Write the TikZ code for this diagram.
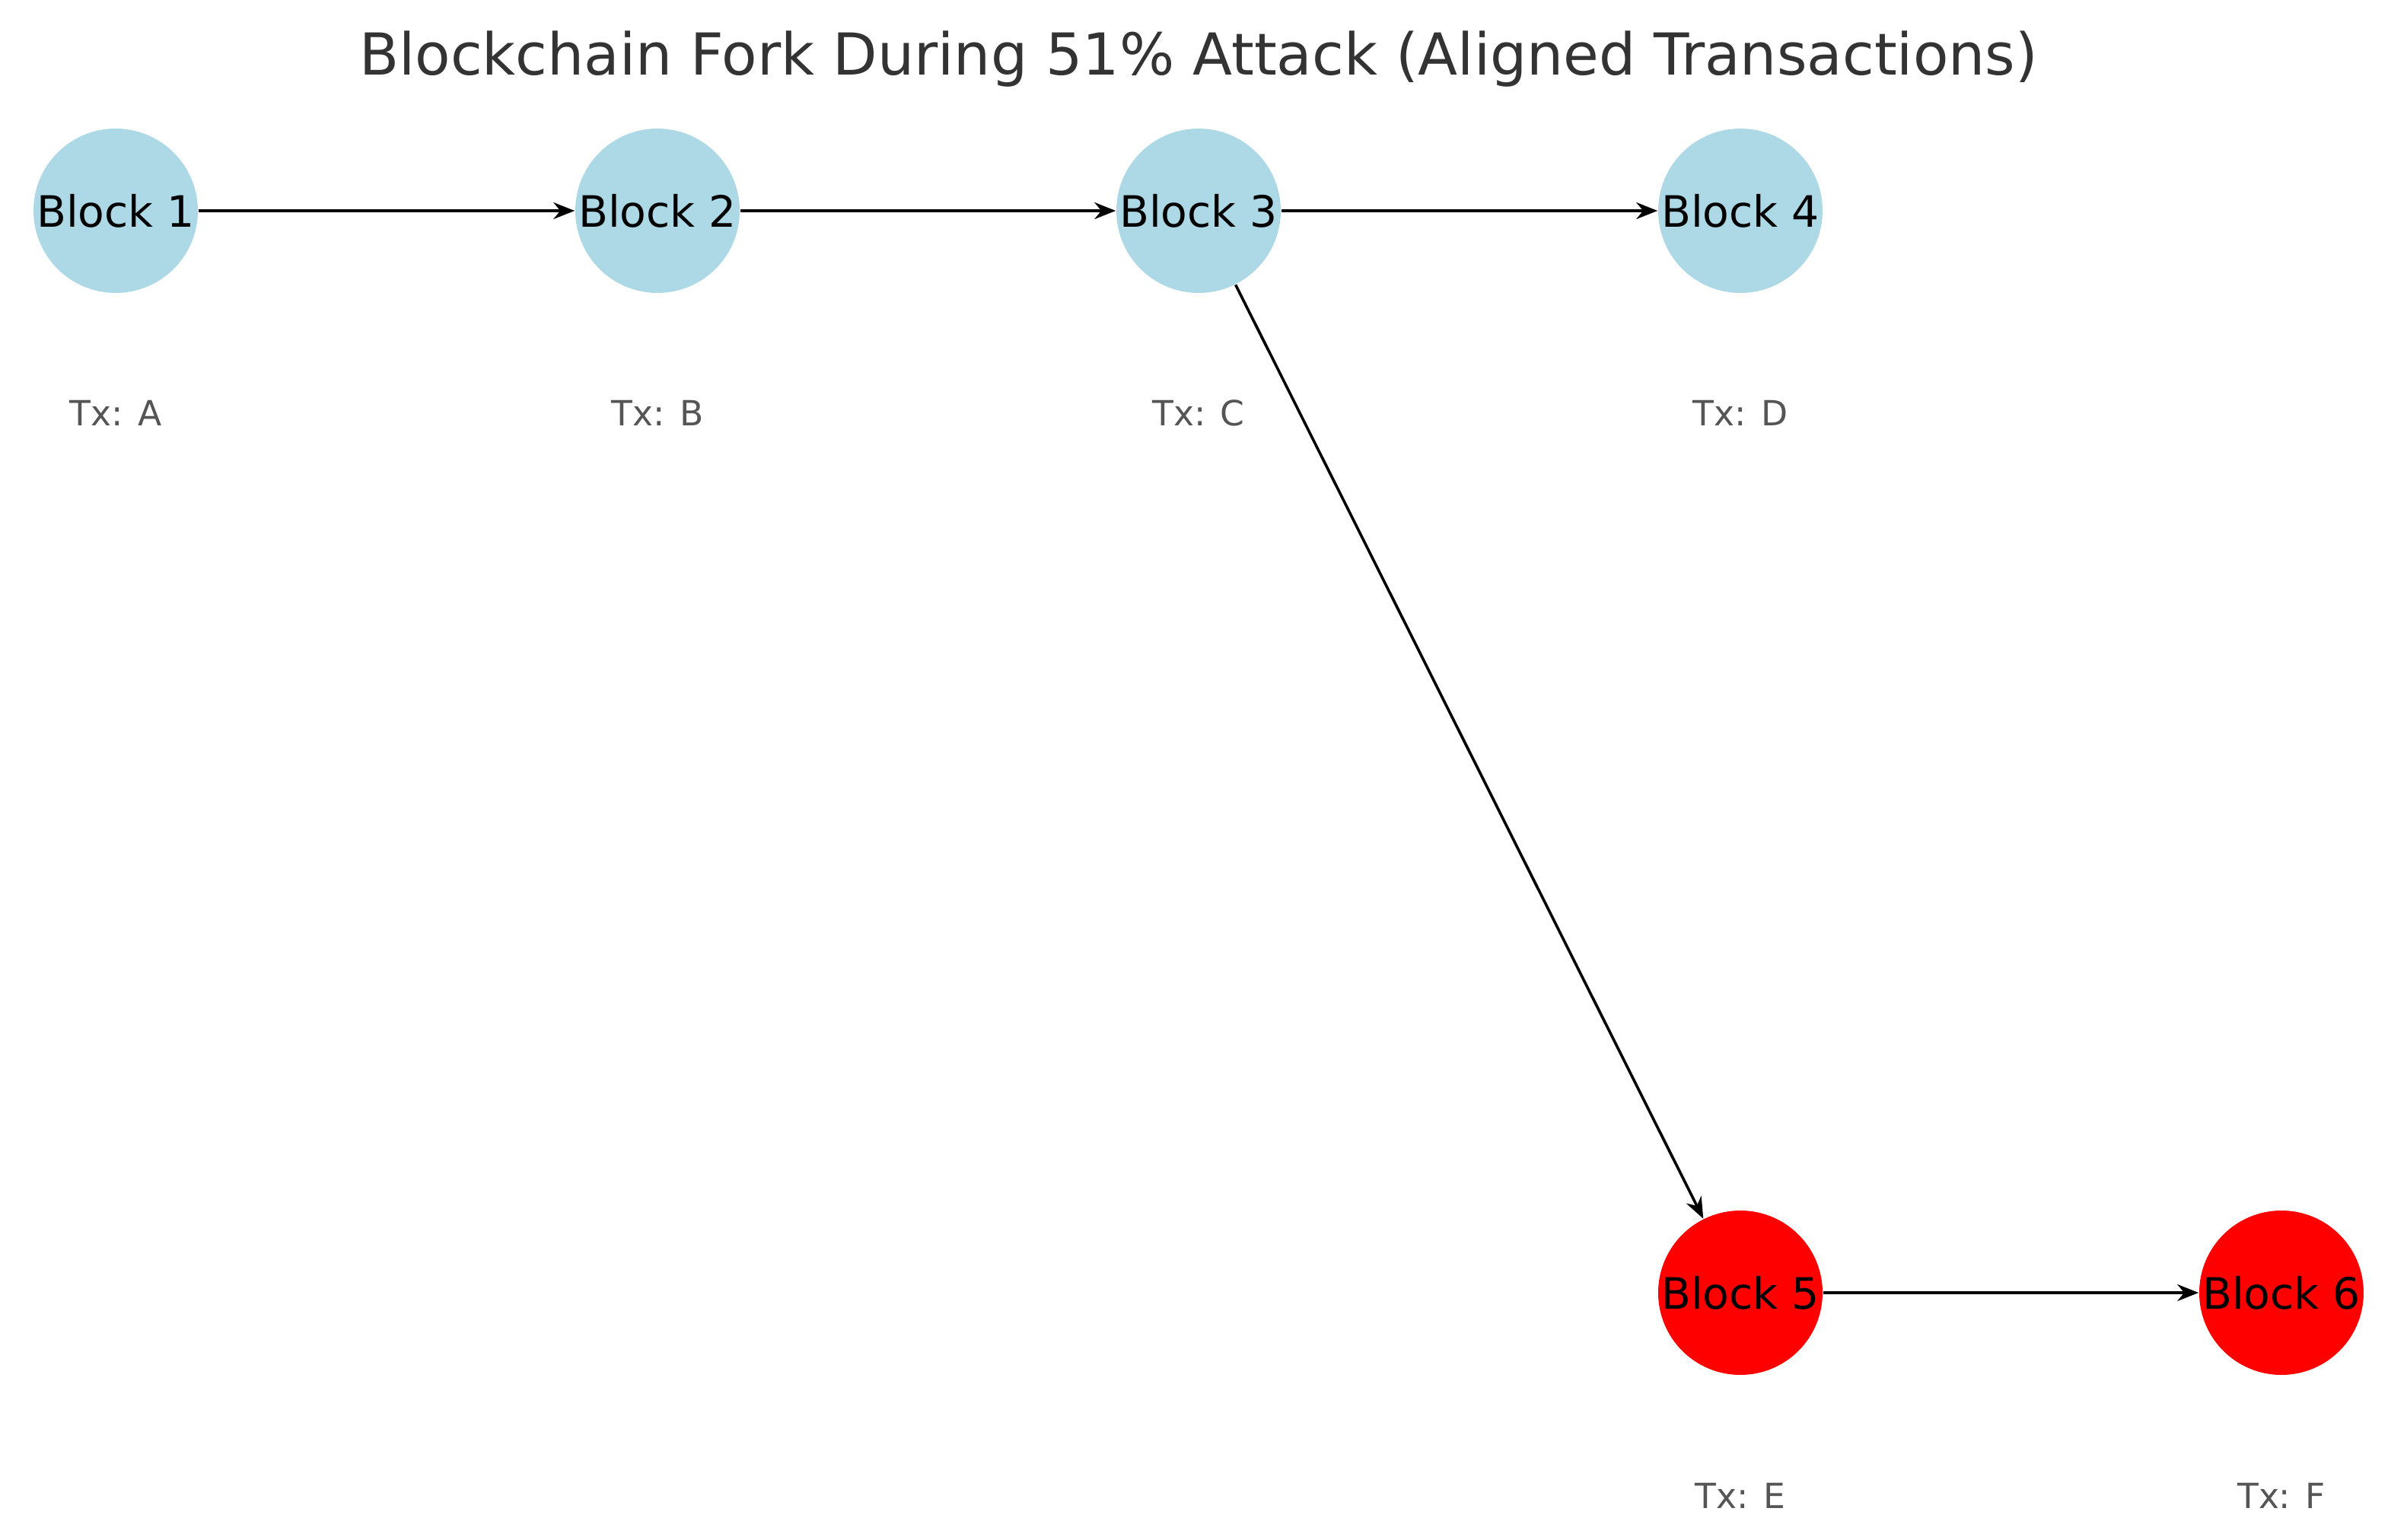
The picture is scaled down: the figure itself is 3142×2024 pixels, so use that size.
\documentclass[tikz,border=0pt]{standalone}
\usepackage{fontspec}
\setmainfont{DejaVu Sans}
\usetikzlibrary{arrows.meta}
\definecolor{lblue}{HTML}{ADD8E6}
\definecolor{titlegray}{HTML}{333333}
\definecolor{txgray}{HTML}{555555}
\tikzset{
  blk/.style={circle, inner sep=0pt, minimum size=54pt, font=\fontsize{14.2}{16}\selectfont, text=black},
  honest/.style={blk, fill=lblue},
  attack/.style={blk, fill=red},
  txlbl/.style={font=\fontsize{11.4}{13}\selectfont, text=txgray},
  link/.style={draw=black, line width=0.9pt, -{Stealth[length=7pt,width=5.5pt]}}
}
\begin{document}
\begin{tikzpicture}[x=0.25pt,y=-0.25pt]
\useasboundingbox (0,0) rectangle (3142,2024);
\node[font=\fontsize{19}{22}\selectfont, text=titlegray] (title) at (1575,78) {Blockchain Fork During 51\% Attack (Aligned Transactions)};
\node[honest] (b1) at (152,277) {Block 1};
\node[honest] (b2) at (864,277) {Block 2};
\node[honest] (b3) at (1575,277) {Block 3};
\node[honest] (b4) at (2287,277) {Block 4};
\node[attack] (b5) at (2287,1699) {Block 5};
\node[attack] (b6) at (2998,1699) {Block 6};
\node[txlbl] (t1) at (152,543) {Tx: A};
\node[txlbl] (t2) at (864,543) {Tx: B};
\node[txlbl] (t3) at (1575,543) {Tx: C};
\node[txlbl] (t4) at (2287,543) {Tx: D};
\node[txlbl] (t5) at (2287,1966) {Tx: E};
\node[txlbl] (t6) at (2998,1966) {Tx: F};
\draw[link] (b1) -- (b2);
\draw[link] (b2) -- (b3);
\draw[link] (b3) -- (b4);
\draw[link] (b3) -- (b5);
\draw[link] (b5) -- (b6);
\end{tikzpicture}
\end{document}
